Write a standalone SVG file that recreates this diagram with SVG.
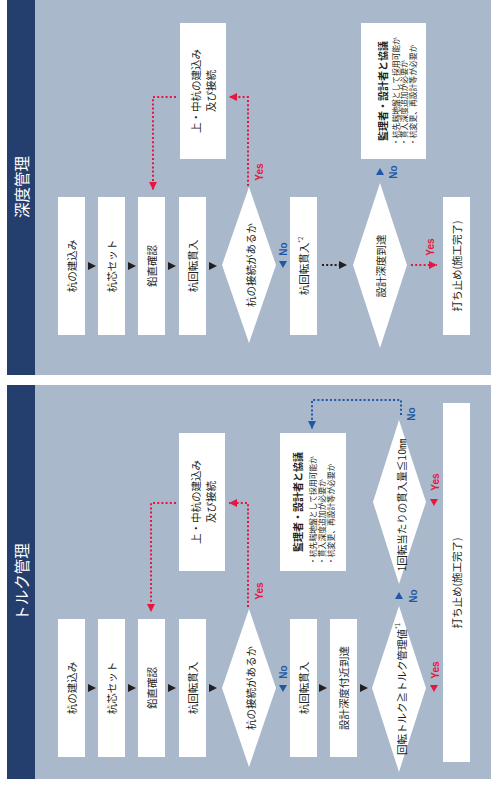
<svg xmlns="http://www.w3.org/2000/svg" width="491" height="787" viewBox="0 0 491 787">
<style>
.panel{fill:#a9b8ca}
.head{fill:#243e6d}
.box{fill:#ffffff}
.ht{font-family:"Noto Sans CJK JP","Noto Sans",sans-serif;font-size:15.5px;fill:#ffffff;text-anchor:middle;dominant-baseline:central}
.t{font-family:"Noto Sans CJK JP","Noto Sans",sans-serif;font-size:10.5px;fill:#231f20;text-anchor:middle;dominant-baseline:central}
.tm{font-family:"Noto Sans CJK JP","Noto Sans",sans-serif;font-size:10px;font-weight:700;fill:#231f20;text-anchor:middle;dominant-baseline:central}
.ts{font-family:"Noto Sans CJK JP","Noto Sans",sans-serif;font-size:7.8px;fill:#231f20;text-anchor:start;dominant-baseline:central}
.yes{font-family:"Liberation Sans",Arial,sans-serif;font-size:10px;font-weight:700;fill:#e5173f;text-anchor:middle;dominant-baseline:central}
.no{font-family:"Liberation Sans",Arial,sans-serif;font-size:10px;font-weight:700;fill:#1f58a6;text-anchor:middle;dominant-baseline:central}
.dr{fill:none;stroke:#e5173f;stroke-width:2;stroke-dasharray:2 2.2}
.db{fill:none;stroke:#1f58a6;stroke-width:2;stroke-dasharray:2 2.2}
.dk{fill:none;stroke:#231f20;stroke-width:2;stroke-dasharray:2 2.2}
.ak{fill:#231f20}
.ar{fill:#e5173f}
.ab{fill:#1f58a6}
</style>
<defs>
<marker id="mr" viewBox="0 0 8 8" refX="8" refY="4" markerWidth="8" markerHeight="8" markerUnits="userSpaceOnUse" orient="auto"><path d="M0,0 L8,4 L0,8 z" fill="#e5173f"/></marker>
<marker id="mb" viewBox="0 0 8 8" refX="8" refY="4" markerWidth="8" markerHeight="8" markerUnits="userSpaceOnUse" orient="auto"><path d="M0,0 L8,4 L0,8 z" fill="#1f58a6"/></marker>
<marker id="mk" viewBox="0 0 8 8" refX="8" refY="4" markerWidth="8" markerHeight="8" markerUnits="userSpaceOnUse" orient="auto"><path d="M0,0 L8,4 L0,8 z" fill="#231f20"/></marker>
</defs>

<!-- panels -->
<g id="panel-depth">
<rect class="panel" x="7" y="0" width="484" height="375"/>
<rect class="head" x="7" y="0" width="28" height="375"/>
<text class="ht" x="21" y="187" transform="rotate(-90 21 187)">深度管理</text>
</g>
<g id="panel-torque">
<rect class="panel" x="7" y="385" width="484" height="394"/>
<rect class="head" x="7" y="385" width="28" height="394"/>
<text class="ht" x="21" y="582" transform="rotate(-90 21 582)">トルク管理</text>
</g>

<!-- ===== depth management nodes ===== -->
<g id="d-n1"><rect class="box" x="58" y="197" width="27" height="138"/><text class="t" x="71.5" y="266" transform="rotate(-90 71.5 266)">杭の建込み</text></g>
<g id="d-n2"><rect class="box" x="98" y="197" width="27" height="138"/><text class="t" x="111.5" y="266" transform="rotate(-90 111.5 266)">杭芯セット</text></g>
<g id="d-n3"><rect class="box" x="138" y="197" width="27" height="138"/><text class="t" x="151.5" y="266" transform="rotate(-90 151.5 266)">鉛直確認</text></g>
<g id="d-n4"><rect class="box" x="179" y="197" width="27" height="138"/><text class="t" x="192.5" y="266" transform="rotate(-90 192.5 266)">杭回転貫入</text></g>
<g id="d-dec1"><polygon class="box" points="249,187 276,265 249,343 222,265"/><text class="t" x="250" y="265" transform="rotate(-90 250 265)">杭の接続があるか</text></g>
<g id="d-n5"><rect class="box" x="290" y="197" width="27" height="138"/><text class="t" x="303.5" y="266" transform="rotate(-90 303.5 266)">杭回転貫入<tspan font-size="6" dy="-4">*2</tspan></text></g>
<g id="d-dec2"><polygon class="box" points="380,183 407,265 380,348 353,265"/><text class="t" x="380" y="266" transform="rotate(-90 380 266)">設計深度到達</text></g>
<g id="d-end"><rect class="box" x="443" y="197" width="27" height="138"/><text class="t" x="456.5" y="266" transform="rotate(-90 456.5 266)">打ち止め(施工完了)</text></g>
<g id="d-join"><rect class="box" x="180" y="23" width="46" height="136"/>
<text class="t" x="195" y="91" transform="rotate(-90 195 91)">上・中杭の建込み</text>
<text class="t" x="210" y="91" transform="rotate(-90 210 91)">及び接続</text></g>
<g id="d-consult"><rect class="box" x="361" y="23" width="65" height="136"/>
<text class="tm" x="382" y="91" transform="rotate(-90 382 91)">監理者・設計者と協議</text>
<text class="ts" x="395" y="146" transform="rotate(-90 395 146)">・杭先端地盤として採用可能か</text>
<text class="ts" x="403.5" y="146" transform="rotate(-90 403.5 146)">・貫入深度追加が必要か</text>
<text class="ts" x="412" y="146" transform="rotate(-90 412 146)">・杭変更、再設計等が必要か</text></g>

<!-- ===== torque management nodes ===== -->
<g id="t-n1"><rect class="box" x="58" y="619" width="27" height="138"/><text class="t" x="71.5" y="688" transform="rotate(-90 71.5 688)">杭の建込み</text></g>
<g id="t-n2"><rect class="box" x="98" y="619" width="27" height="138"/><text class="t" x="111.5" y="688" transform="rotate(-90 111.5 688)">杭芯セット</text></g>
<g id="t-n3"><rect class="box" x="138" y="619" width="27" height="138"/><text class="t" x="151.5" y="688" transform="rotate(-90 151.5 688)">鉛直確認</text></g>
<g id="t-n4"><rect class="box" x="179" y="619" width="27" height="138"/><text class="t" x="192.5" y="688" transform="rotate(-90 192.5 688)">杭回転貫入</text></g>
<g id="t-dec1"><polygon class="box" points="249,609 276,688 249,767 222,688"/><text class="t" x="250" y="688" transform="rotate(-90 250 688)">杭の接続があるか</text></g>
<g id="t-n5"><rect class="box" x="290" y="619" width="27" height="138"/><text class="t" x="303.5" y="688" transform="rotate(-90 303.5 688)">杭回転貫入</text></g>
<g id="t-n6"><rect class="box" x="330" y="619" width="27" height="138"/><text class="t" x="343.5" y="688" transform="rotate(-90 343.5 688)">設計深度付近到達</text></g>
<g id="t-dec2"><polygon class="box" points="399,606 426,688 399,772 372,688"/><text class="t" x="401" y="689" font-size="10" transform="rotate(-90 401 689)">回転トルク≧トルク管理値<tspan font-size="6" dy="-4">*1</tspan></text></g>
<g id="t-dec3"><polygon class="box" points="399,420 426,502 399,584 373,502"/><text class="t" x="401" y="505" font-size="10" transform="rotate(-90 401 505)">1回転当たりの貫入量≦10㎜</text></g>
<g id="t-end"><rect class="box" x="443" y="403" width="27" height="359"/><text class="t" x="456.5" y="583" transform="rotate(-90 456.5 583)">打ち止め(施工完了)</text></g>
<g id="t-join"><rect class="box" x="179" y="433" width="46" height="138"/>
<text class="t" x="195" y="502" transform="rotate(-90 195 502)">上・中杭の建込み</text>
<text class="t" x="210" y="502" transform="rotate(-90 210 502)">及び接続</text></g>
<g id="t-consult"><rect class="box" x="280" y="433" width="66" height="138"/>
<text class="tm" x="297" y="502" transform="rotate(-90 297 502)">監理者・設計者と協議</text>
<text class="ts" x="312" y="565" transform="rotate(-90 312 565)">・杭先端地盤として採用可能か</text>
<text class="ts" x="321" y="565" transform="rotate(-90 321 565)">・貫入深度追加が必要か</text>
<text class="ts" x="330" y="565" transform="rotate(-90 330 565)">・杭変更、再設計等が必要か</text></g>

<!-- ===== connectors ===== -->
<g id="connectors">
<!-- depth: solid arrowheads -->
<polygon class="ak" points="88,262 96,266 88,270"/>
<polygon class="ak" points="128,262 136,266 128,270"/>
<polygon class="ak" points="168,262 176,266 168,270"/>
<polygon class="ak" points="209,262 217,266 209,270"/>
<!-- depth: yes loop -->
<path class="dr" d="M248,186 V97 H229" marker-end="url(#mr)"/>
<path class="dr" d="M176,97 H153 V190" marker-end="url(#mr)"/>
<text class="yes" x="259" y="172" transform="rotate(-90 259 172)">Yes</text>
<!-- depth: no -->
<polygon class="ab" points="279,261 287,261 283,268"/>
<text class="no" x="283" y="249" transform="rotate(-90 283 249)">No</text>
<path class="dk" d="M322,265 H347" marker-end="url(#mk)"/>
<path class="dr" d="M411,265 H437" marker-end="url(#mr)"/>
<text class="yes" x="430" y="247" transform="rotate(-90 430 247)">Yes</text>
<polygon class="ab" points="376,175 384,175 380,168"/>
<text class="no" x="393" y="172" transform="rotate(-90 393 172)">No</text>

<!-- torque: solid arrowheads -->
<polygon class="ak" points="88,684 96,688 88,692"/>
<polygon class="ak" points="128,684 136,688 128,692"/>
<polygon class="ak" points="168,684 176,688 168,692"/>
<polygon class="ak" points="209,684 217,688 209,692"/>
<polygon class="ak" points="319,684 327,688 319,692"/>
<polygon class="ak" points="360,684 368,688 360,692"/>
<!-- torque: yes loop -->
<path class="dr" d="M248,607 V503 H229" marker-end="url(#mr)"/>
<path class="dr" d="M176,503 H151 V612" marker-end="url(#mr)"/>
<text class="yes" x="259" y="591" transform="rotate(-90 259 591)">Yes</text>
<polygon class="ab" points="279,685 287,685 283,692"/>
<text class="no" x="283" y="672" transform="rotate(-90 283 672)">No</text>
<!-- torque: decision outputs -->
<polygon class="ar" points="430,685 438,685 434,692"/>
<text class="yes" x="435" y="670" transform="rotate(-90 435 670)">Yes</text>
<polygon class="ab" points="395,599 403,599 399,592"/>
<text class="no" x="413" y="596" transform="rotate(-90 413 596)">No</text>
<polygon class="ar" points="430,499 438,499 434,506"/>
<text class="yes" x="435" y="482" transform="rotate(-90 435 482)">Yes</text>
<path class="db" d="M401,415 V400 H312 V429" marker-end="url(#mb)"/>
<text class="no" x="411" y="414" transform="rotate(-90 411 414)">No</text>
</g>
</svg>
